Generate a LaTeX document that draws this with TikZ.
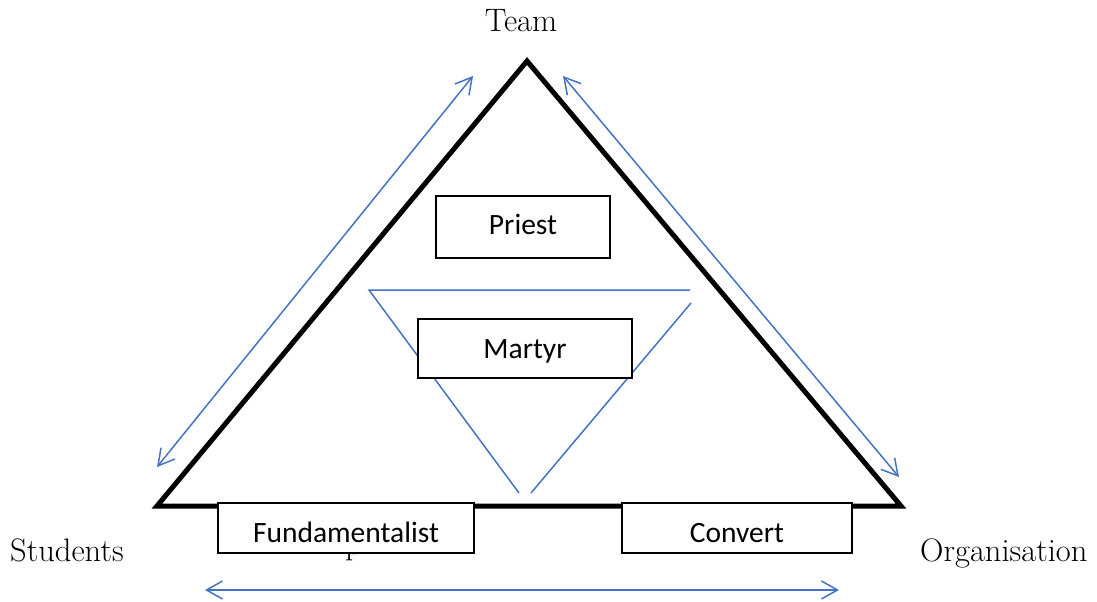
\documentclass[tikz,border=0pt]{standalone}
\usepackage{fontspec}
\usetikzlibrary{arrows.meta}
\newfontfamily\boxfont{Carlito}
\definecolor{linkblue}{RGB}{68,114,196}
\begin{document}
\begin{tikzpicture}[x=1pt,y=-1pt,
  tri/.style={line width=5pt, line join=miter},
  blueline/.style={linkblue, line width=1.5pt},
  link/.style={linkblue, line width=1.5pt,
    {Straight Barb[length=16pt,width=18pt]}-{Straight Barb[length=16pt,width=18pt]}},
  role/.style={draw, line width=1.2pt, fill=white, inner sep=0pt, text depth=0pt,
    font=\boxfont\fontsize{29.5}{31}\selectfont},
  corner/.style={font=\fontsize{32.5}{36}\selectfont, inner sep=0pt}]
\useasboundingbox (0,0) rectangle (1097,602);

% outer triangle
\coordinate (apex) at (527,61);
\coordinate (sl) at (157,506);
\coordinate (sr) at (901,506);
\draw[tri] (apex) -- (sl) -- (sr) -- cycle;

% inverted inner triangle (open at the right corner)
\coordinate (ia) at (369,290);
\coordinate (ib) at (690,290);
\coordinate (ic) at (519,493);
\coordinate (id) at (691,303);
\coordinate (ie) at (531,493);
\draw[blueline] (ib) -- (ia) -- (ic);
\draw[blueline] (id) -- (ie);

% two-way arrows along the sides
\coordinate (l1) at (157,467);
\coordinate (l2) at (473,76);
\coordinate (r1) at (563,76);
\coordinate (r2) at (899,477);
\coordinate (b1) at (205,590);
\coordinate (b2) at (839,590);
\draw[link] (l1) -- (l2);
\draw[link] (r1) -- (r2);
\draw[link] (b1) -- (b2);

% label partly covered by the Fundamentalist box
\node[corner, anchor=base west] (hidden) at (345,554) {p};

% role boxes (text height sets where the baseline sits)
\node[role, text height=14pt, minimum width=174pt, minimum height=62pt] (priest) at (523,227) {Priest};
\node[role, text height=19pt, minimum width=214pt, minimum height=59pt] (martyr) at (525,348.5) {Martyr};
\node[role, text height=28pt, minimum width=256pt, minimum height=50pt] (fund) at (346,528) {Fundamentalist};
\node[role, text height=28pt, minimum width=230pt, minimum height=50pt] (convert) at (737,528) {Convert};

% corner labels
\node[corner, anchor=base] (team) at (521,32) {Team};
\node[corner, anchor=base west] (students) at (10,561) {Students};
\node[corner, anchor=base west] (org) at (920,561) {Organisation};
\end{tikzpicture}
\end{document}
